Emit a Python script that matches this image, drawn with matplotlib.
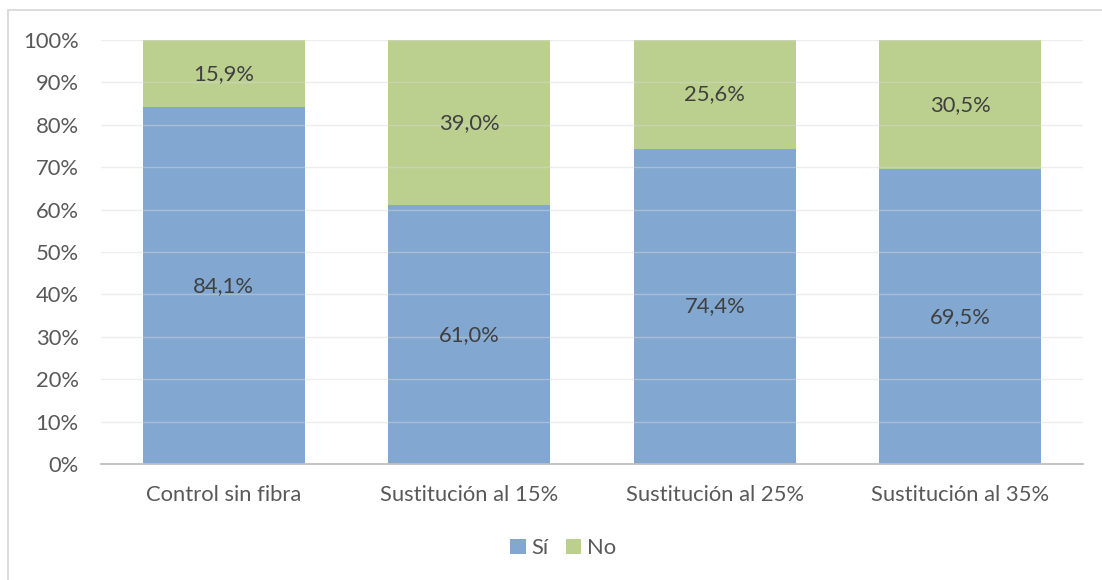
import matplotlib
matplotlib.use("Agg")
import matplotlib.pyplot as plt
from matplotlib.patches import Rectangle, Patch
import numpy as np

categories = ["Control sin fibra", "Sustitución al 15%", "Sustitución al 25%", "Sustitución al 35%"]
si_values = [84.1, 61.0, 74.4, 69.5]
no_values = [15.9, 39.0, 25.6, 30.5]
series_names = ["Sí", "No"]
y_ticks = [0, 10, 20, 30, 40, 50, 60, 70, 80, 90, 100]

BLUE = "#82A7D0"
GREEN = "#BBD08F"
TEXT = "#595959"
LABEL = "#404040"
FS = 15.8

plt.rcParams["font.family"] = ["Lato", "DejaVu Sans"]

W, H = 1102, 580
fig = plt.figure(figsize=(W / 100, H / 100), dpi=100)

# outer chart frame
fig.patches.append(Rectangle((8 / W, -0.05), 1.2, 1 - 10 / H + 0.05, transform=fig.transFigure,
                             fill=False, edgecolor="#D9D9D9", linewidth=1.3))

ax = fig.add_axes([101 / W, 1 - 464 / H, (1083 - 101) / W, (464 - 40) / H])
x = np.arange(len(categories))
width = 0.66

ax.bar(x, si_values, width, color=BLUE, zorder=2)
ax.bar(x, no_values, width, bottom=si_values, color=GREEN, zorder=2)

for xi, s, n in zip(x, si_values, no_values):
    ax.text(xi, s / 2, f"{s:.1f}".replace(".", ",") + "%", ha="center", va="center",
            fontsize=FS, color=LABEL, zorder=4)
    ax.text(xi, s + n / 2, f"{n:.1f}".replace(".", ",") + "%", ha="center", va="center",
            fontsize=FS, color=LABEL, zorder=4)

ax.set_xlim(-0.5, len(categories) - 0.5)
ax.set_ylim(0, 100)
ax.set_yticks(y_ticks)
ax.set_yticklabels([f"{v}%" for v in y_ticks])
ax.set_xticks(x)
ax.set_xticklabels(categories)

for v in y_ticks[1:]:
    ax.axhline(v, color="#D9D9D9", linewidth=1.0, alpha=0.45, zorder=3)

for side in ["top", "right", "left"]:
    ax.spines[side].set_visible(False)
ax.spines["bottom"].set_color("#BFBFBF")
ax.spines["bottom"].set_linewidth(1.3)
ax.spines["bottom"].set_zorder(5)

ax.tick_params(axis="both", length=0, labelsize=FS, colors=TEXT)
ax.tick_params(axis="y", pad=16)
ax.tick_params(axis="x", pad=15)

handles = [Patch(facecolor=BLUE, edgecolor="none"), Patch(facecolor=GREEN, edgecolor="none")]
fig.legend(handles, series_names, loc="center", bbox_to_anchor=(563 / W, 1 - 548 / H), ncol=2,
           frameon=False, fontsize=FS, handlelength=0.7, handleheight=0.7,
           handletextpad=0.25, columnspacing=0.8, labelcolor=TEXT)

fig.savefig("out.png", dpi=100)
